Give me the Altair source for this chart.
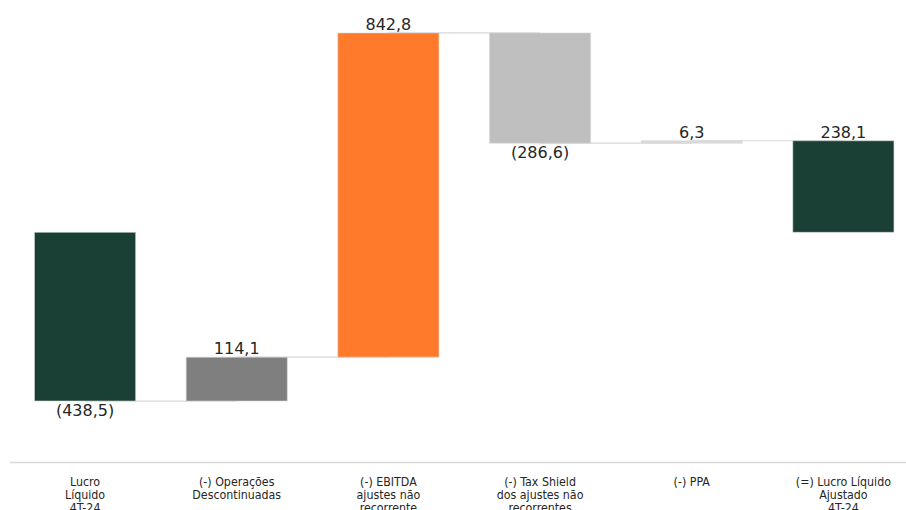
import altair as alt
import pandas as pd

categories = [
    "Lucro|Líquido|4T-24",
    "(-) Operações|Descontinuadas",
    "(-) EBITDA|ajustes não|recorrente",
    "(-) Tax Shield|dos ajustes não|recorrentes",
    "(-) PPA",
    "(=) Lucro Líquido|Ajustado|4T-24",
]
values = [-438.5, 114.1, 842.8, -286.6, 6.3, 238.1]
kinds = ["total", "delta", "delta", "delta", "delta", "total"]
colors = ["#1a4035", "#7f7f7f", "#ff7a2b", "#bfbfbf", "#d9d9d9", "#1a4035"]

rows = []
running = 0.0
for cat, v, k, c in zip(categories, values, kinds, colors):
    if k == "total":
        start, end = 0.0, v
    else:
        start, end = running, running + v
    running = end
    txt = f"{abs(v):.1f}".replace(".", ",")
    if v < 0:
        txt = f"({txt})"
    rows.append(dict(cat=cat, start=start, end=end, color=c, label=txt,
                     pos="below" if v < 0 else "above",
                     ly=min(start, end) if v < 0 else max(start, end)))
df = pd.DataFrame(rows)

conn = pd.DataFrame([
    dict(cat=categories[i], next=categories[i + 1], level=rows[i]["end"])
    for i in range(len(categories) - 1)
])

xscale = alt.Scale(domain=categories, range=[9.15, 919.3], paddingInner=0.333, paddingOuter=0.167)
yscale = alt.Scale(domain=[-597, 604])

x = alt.X("cat:N", sort=categories, scale=xscale,
          axis=alt.Axis(title=None, labelExpr="split(datum.label, '|')", labelAngle=0,
                        labelAlign="center", labelBaseline="top", labelPadding=13,
                        labelFont="DejaVu Sans Condensed", labelFontSize=12.3, labelColor="#262626",
                        labelLineHeight=13.3, ticks=False, grid=False, domainColor="#d9d9d9",
                        domainWidth=1.5))

rules = alt.Chart(conn).mark_rule(color="#d9d9d9", strokeWidth=1.2).encode(
    x=alt.X("cat:N", sort=categories, scale=xscale),
    x2="next:N",
    y=alt.Y("level:Q", scale=yscale, axis=None),
)

bars = alt.Chart(df).mark_bar(stroke="#d9d9d9", strokeWidth=0.6).encode(
    x=x,
    y=alt.Y("start:Q", scale=yscale, axis=None),
    y2="end:Q",
    color=alt.Color("color:N", scale=None),
)

above = alt.Chart(df).transform_filter("datum.pos == 'above'").mark_text(
    font="DejaVu Sans", fontSize=16, color="#262626", baseline="alphabetic", dy=-3
).encode(x=alt.X("cat:N", sort=categories, scale=xscale), y=alt.Y("ly:Q", scale=yscale, axis=None), text="label:N")

below = alt.Chart(df).transform_filter("datum.pos == 'below'").mark_text(
    font="DejaVu Sans", fontSize=16, color="#262626", baseline="top", dy=2
).encode(x=alt.X("cat:N", sort=categories, scale=xscale), y=alt.Y("ly:Q", scale=yscale, axis=None), text="label:N")

chart = alt.layer(rules, bars, above, below).properties(
    width=906, height=462,
    autosize=alt.AutoSizeParams(type="none"),
    padding={"left": 0, "top": 0, "right": 0, "bottom": 48},
    background="white",
).configure_view(stroke=None)

chart.save("out.html", embed_options={"renderer": "svg", "actions": False})
